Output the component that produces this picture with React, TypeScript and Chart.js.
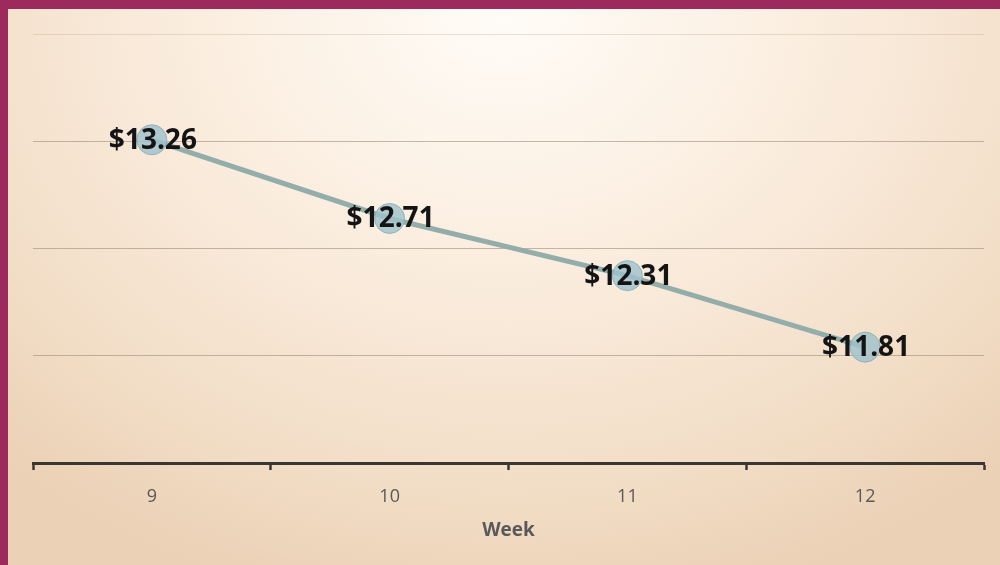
import React, { useEffect, useRef } from "react";
import { Chart, registerables } from "chart.js";

Chart.register(...registerables);

// Weekly average price
const weeks = ["9", "10", "11", "12"];
const prices = [13.26, 12.71, 12.31, 11.81];

// Value axis range
const yMin = 11;
const yMax = 14;
const yStep = 0.75;

const FONT = "'Open Sans', 'Liberation Sans', sans-serif";

// Writes the dollar value centred on each marker
const valueLabels = {
  id: "valueLabels",
  afterDatasetsDraw(chart: any) {
    const { ctx } = chart;
    const meta = chart.getDatasetMeta(0);
    const data = chart.data.datasets[0].data as number[];
    ctx.save();
    ctx.font = `bold 28px ${FONT}`;
    ctx.fillStyle = "#141414";
    ctx.textAlign = "center";
    ctx.textBaseline = "middle";
    meta.data.forEach((pt: any, i: number) => {
      ctx.fillText("$" + data[i].toFixed(2), pt.x + 1, pt.y + 1);
    });
    ctx.restore();
  },
};

export default function App() {
  const canvasRef = useRef<HTMLCanvasElement | null>(null);

  useEffect(() => {
    let chart: Chart | null = null;
    let cancelled = false;
    document.body.style.margin = "0";

    const build = () => {
      if (cancelled || !canvasRef.current) return;
      chart = new Chart(canvasRef.current, {
        type: "line",
        data: {
          labels: weeks,
          datasets: [
            {
              data: prices,
              borderColor: "#93adaa",
              borderWidth: 5,
              tension: 0,
              pointRadius: 15,
              pointHoverRadius: 15,
              pointBackgroundColor: "rgba(160,194,204,0.82)",
              pointBorderColor: "rgba(138,174,186,0.9)",
              pointBorderWidth: 1,
            },
          ],
        },
        options: {
          responsive: false,
          animation: false,
          events: [],
          layout: { padding: { left: 25, right: 15, top: 25, bottom: 0 } },
          plugins: {
            legend: { display: false },
            tooltip: { enabled: false },
          },
          scales: {
            x: {
              type: "category",
              offset: true,
              afterFit(scale: any) {
                scale.height = 102;
              },
              grid: {
                offset: true,
                drawOnChartArea: false,
                drawTicks: true,
                tickLength: 7,
                tickColor: "#3b3631",
                tickWidth: 2.5,
              },
              border: { display: true, color: "#3b3631", width: 3 },
              ticks: {
                color: "#595959",
                padding: 16,
                font: { family: FONT, size: 18 },
              },
              title: {
                display: true,
                text: "Week",
                color: "#595959",
                font: { family: FONT, size: 19, weight: "bold" },
                padding: { top: 0, bottom: 23 },
              },
            },
            y: {
              min: yMin,
              max: yMax,
              afterFit(scale: any) {
                scale.width = 0;
              },
              ticks: { display: false, stepSize: yStep },
              grid: {
                drawTicks: false,
                lineWidth: 1,
                color: (c: any) =>
                  c.tick && c.tick.value === yMax
                    ? "rgba(190,170,150,0.35)"
                    : "rgba(150,132,115,0.55)",
              },
              border: { display: false },
            },
          },
        },
        plugins: [valueLabels],
      });
    };

    const fonts: any = (document as any).fonts;
    if (fonts && fonts.load) {
      Promise.all([
        fonts.load(`bold 28px ${FONT}`),
        fonts.load(`18px ${FONT}`),
      ])
        .catch(() => undefined)
        .then(build);
    } else {
      build();
    }

    return () => {
      cancelled = true;
      if (chart) chart.destroy();
    };
  }, []);

  return (
    <div
      style={{
        position: "absolute",
        left: 0,
        top: 0,
        width: 1000,
        height: 565,
        background: "#9d2a5c",
        overflow: "hidden",
      }}
    >
      <div
        style={{
          position: "absolute",
          left: 8,
          top: 9,
          width: 992,
          height: 556,
          background:
            "radial-gradient(ellipse 75% 110% at 50% 0%, #fffcf7 0%, #fbeee0 40%, #f3dfc9 75%, #ebd1b5 100%)",
        }}
      >
        <canvas
          ref={canvasRef}
          width={992}
          height={556}
          style={{ display: "block", width: 992, height: 556 }}
        />
      </div>
    </div>
  );
}
